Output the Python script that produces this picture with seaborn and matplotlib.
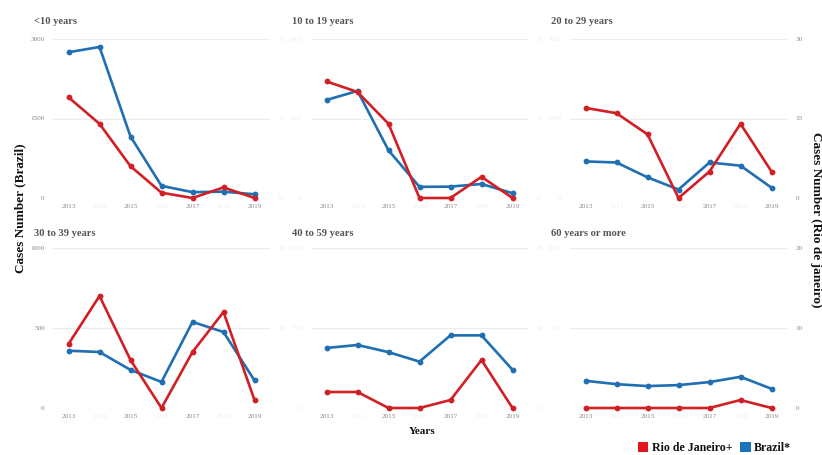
import matplotlib
matplotlib.use("Agg")
import matplotlib.pyplot as plt
from matplotlib.patches import Patch
import pandas as pd
import seaborn as sns

# ---- data -------------------------------------------------------------
years = [2013, 2014, 2015, 2016, 2017, 2018, 2019]
age_groups = ["<10 years", "10 to 19 years", "20 to 29 years",
              "30 to 39 years", "40 to 59 years", "60 years or more"]

brazil_lt10 = [2750, 2850, 1160, 230, 110, 120, 70]
brazil_10_19 = [1850, 2020, 900, 210, 215, 265, 90]
brazil_20_29 = [690, 670, 390, 160, 670, 610, 195]
brazil_30_39 = [358, 350, 238, 163, 538, 475, 172]
brazil_40_59 = [375, 394, 349, 290, 454, 454, 239]
brazil_60plus = [170, 149, 137, 143, 162, 195, 120]

rio_lt10 = [19, 14, 6, 1, 0, 2, 0]
rio_10_19 = [22, 20, 14, 0, 0, 4, 0]
rio_20_29 = [17, 16, 12, 0, 5, 14, 5]
rio_30_39 = [8, 14, 6, 0, 7, 12, 1]
rio_40_59 = [2, 2, 0, 0, 1, 6, 0]
rio_60plus = [0, 0, 0, 0, 0, 1, 0]

brazil_series = [brazil_lt10, brazil_10_19, brazil_20_29,
                 brazil_30_39, brazil_40_59, brazil_60plus]
rio_series = [rio_lt10, rio_10_19, rio_20_29,
              rio_30_39, rio_40_59, rio_60plus]

brazil_ticks_top = [0, 1500, 3000]
rio_ticks_top = [0, 15, 30]
brazil_ticks_bottom = [0, 500, 1000]
rio_ticks_bottom = [0, 10, 20]

rows = []
for g, b, r in zip(age_groups, brazil_series, rio_series):
    for y, bv, rv in zip(years, b, r):
        rows.append({"group": g, "year": y, "brazil": bv, "rio": rv})
df = pd.DataFrame(rows)

# ---- style ------------------------------------------------------------
sns.set_theme(style="white")
plt.rcParams["font.family"] = ["Liberation Serif", "DejaVu Serif"]

BLUE = "#1f6fb2"
RED = "#d11f26"
GRID = "#ececec"
TICK = "#8a8a8a"
FAINT = "#efefef"
TITLE = "#555555"

W, H = 822, 455
fig = plt.figure(figsize=(W / 100, H / 100), dpi=100)

col_left = [53, 311, 570]
col_width = 217
row_top = [39, 248]
row_height = [159, 160]

for i, group in enumerate(age_groups):
    r, c = divmod(i, 3)
    left = col_left[c] / W
    bottom = 1 - (row_top[r] + row_height[r]) / H
    ax = fig.add_axes([left, bottom, col_width / W, row_height[r] / H])
    ax2 = ax.twinx()

    sub = df[df["group"] == group]
    sns.lineplot(data=sub, x="year", y="brazil", ax=ax, color=BLUE,
                 linewidth=1.9, marker="o", markersize=4.2,
                 markeredgewidth=0, clip_on=False)
    sns.lineplot(data=sub, x="year", y="rio", ax=ax2, color=RED,
                 linewidth=1.9, marker="o", markersize=4.2,
                 markeredgewidth=0, clip_on=False)

    bticks = brazil_ticks_top if r == 0 else brazil_ticks_bottom
    rticks = rio_ticks_top if r == 0 else rio_ticks_bottom
    ax.set_ylim(bticks[0], bticks[-1])
    ax2.set_ylim(rticks[0], rticks[-1])
    ax.set_xlim(2012.5, 2019.5)

    ax.set_yticks(bticks)
    ax.set_yticklabels([str(t) for t in bticks])
    ax2.set_yticks(rticks)
    ax2.set_yticklabels([str(t) for t in rticks])
    ax.set_xticks(years)
    ax.set_xticklabels([str(y) for y in years])

    ax.grid(axis="y", color=GRID, linewidth=0.9)
    ax.grid(axis="x", visible=False)
    ax2.grid(False)
    ax.set_axisbelow(True)
    for a in (ax, ax2):
        for s in a.spines.values():
            s.set_visible(False)
        a.set_xlabel("")
        a.set_ylabel("")

    ax.tick_params(axis="x", length=0, pad=4, labelsize=5.2)
    ax.tick_params(axis="y", length=0, pad=6, labelsize=5.2)
    ax2.tick_params(axis="y", length=0, pad=6, labelsize=5.2)

    for lab, y in zip(ax.get_xticklabels(), years):
        lab.set_color(TICK if y % 2 == 1 else FAINT)
    for lab in ax.get_yticklabels():
        lab.set_color(TICK if c == 0 else FAINT)
    for lab in ax2.get_yticklabels():
        lab.set_color(TICK if c == 2 else FAINT)

    title_y = 1 + (17 / 159 if r == 0 else 14 / 160)
    ax.text(-19 / col_width, title_y, group, transform=ax.transAxes,
            ha="left", va="center", fontsize=7.6, color=TITLE,
            fontweight="bold")

# ---- shared labels ----------------------------------------------------
fig.text(20 / W, 1 - 208 / H, "Cases Number (Brazil)", rotation=90,
         ha="center", va="center", fontsize=9.5, fontweight="bold",
         color="#111111")
fig.text(816 / W, 1 - 220 / H, "Cases Number (Rio de janeiro)",
         rotation=270, ha="center", va="center", fontsize=9.5,
         fontweight="bold", color="#111111")
fig.text(422 / W, 1 - 432 / H, "Years", ha="center", va="center",
         fontsize=8, fontweight="bold", color="#111111")

handles = [Patch(facecolor="#e3141c", edgecolor="none", label="Rio de Janeiro+"),
           Patch(facecolor="#1a73bd", edgecolor="none", label="Brazil*")]
leg = fig.legend(handles=handles, loc="center right", ncol=2, frameon=False,
                 bbox_to_anchor=(796 / W, 1 - 448 / H), fontsize=8.6,
                 handlelength=0.9, handleheight=0.9, handletextpad=0.3,
                 columnspacing=0.6, borderaxespad=0)
for t in leg.get_texts():
    t.set_fontweight("bold")
    t.set_color("#111111")

fig.savefig("out.png", dpi=100)
